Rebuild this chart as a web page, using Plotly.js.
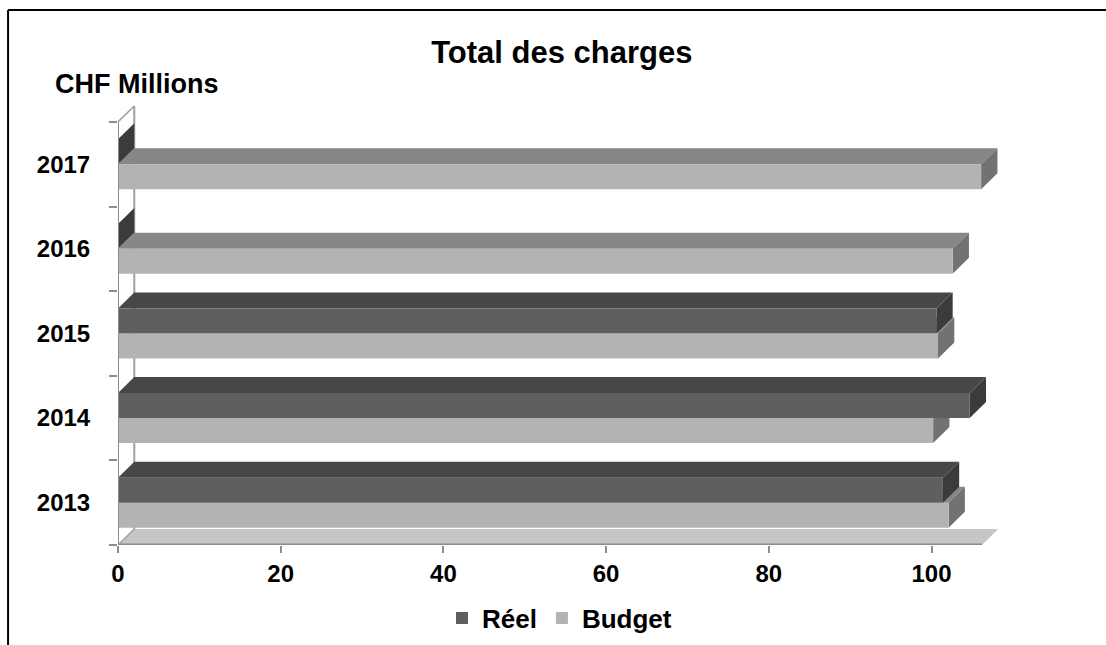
<!DOCTYPE html>
<html>
<head>
<meta charset="utf-8">
<script src="https://cdn.plot.ly/plotly-3.0.1.min.js"></script>
<style>html,body{margin:0;padding:0;background:#fff;}#chart{width:1106px;height:645px;}</style>
</head>
<body>
<div id="chart"></div>
<script>
// ---- data ----
const years = ['2013', '2014', '2015', '2016', '2017'];
const reel = [101.4, 104.7, 100.6, 0, 0];
const budget = [102.1, 100.2, 100.8, 102.6, 106.1];
const xTicks = [0, 20, 40, 60, 80, 100];
const seriesNames = ['Réel', 'Budget'];

// ---- style / geometry ----
const FONT = 'Arial, "Liberation Sans", sans-serif';
const barW = 0.295;      // bar thickness in category units
const dX = 2.0;          // 3D depth along x (data units)
const dY = 0.189;        // 3D depth along y (category units)
const floorMax = 106.2;  // right end of the floor
const colReel = {front: '#5f5f5f', top: '#474747', side: '#3b3b3b'};
const colBud = {front: '#b3b3b3', top: '#878787', side: '#727272'};

const centers = years.map((_, i) => i + 0.5);
const nCat = years.length;

function topFace(v, y1, col) {
  return {type: 'path', xref: 'x', yref: 'y', layer: 'below', line: {width: 0}, fillcolor: col,
    path: `M0,${y1} L${v},${y1} L${v + dX},${y1 + dY} L${dX},${y1 + dY} Z`};
}
function sideFace(v, y0, y1, col) {
  return {type: 'path', xref: 'x', yref: 'y', layer: 'below', line: {width: 0}, fillcolor: col,
    path: `M${v},${y0} L${v},${y1} L${v + dX},${y1 + dY} L${v + dX},${y0 + dY} Z`};
}

const shapes = [];
// floor
shapes.push({type: 'path', xref: 'x', yref: 'y', layer: 'below', line: {width: 0}, fillcolor: '#c6c6c6',
  path: `M0,0 L${floorMax},0 L${floorMax + dX},${dY} L${dX},${dY} Z`});
shapes.push({type: 'line', xref: 'x', yref: 'y', layer: 'below', x0: 0, x1: floorMax, y0: 0, y1: 0,
  line: {color: '#8c8c8c', width: 3}});
shapes.push({type: 'line', xref: 'x', yref: 'y', layer: 'below', x0: 0, x1: dX, y0: 0, y1: dY,
  line: {color: '#a0a0a0', width: 1.5}});
// back wall line
shapes.push({type: 'line', xref: 'x', yref: 'y', layer: 'below', x0: dX, x1: dX, y0: dY, y1: nCat + dY,
  line: {color: '#a0a0a0', width: 2}});
shapes.push({type: 'line', xref: 'x', yref: 'y', layer: 'below', x0: 0, x1: dX, y0: nCat, y1: nCat + dY,
  line: {color: '#a0a0a0', width: 1.5}});

// budget 3D faces (below réel)
centers.forEach((c, i) => {
  const y0 = c - barW, y1 = c;
  shapes.push(topFace(budget[i], y1, colBud.top));
  shapes.push(sideFace(budget[i], y0, y1, colBud.side));
});
// réel 3D faces
centers.forEach((c, i) => {
  const y0 = c, y1 = c + barW;
  shapes.push(topFace(reel[i], y1, colReel.top));
  shapes.push(sideFace(reel[i], y0, y1, colReel.side));
});
// front left axis line
shapes.push({type: 'line', xref: 'x', yref: 'y', layer: 'above', x0: 0, x1: 0, y0: 0, y1: nCat,
  line: {color: '#8c8c8c', width: 2}});
// outer frame (top + left)
shapes.push({type: 'line', xref: 'paper', yref: 'paper', x0: -0.1245, x1: 1.125, y0: 1.2159, y1: 1.2159,
  line: {color: '#000', width: 2}});
shapes.push({type: 'line', xref: 'paper', yref: 'paper', x0: -0.1245, x1: -0.1245, y0: 1.2159, y1: -0.25,
  line: {color: '#000', width: 2}});

const traces = [
  {type: 'bar', orientation: 'h', name: seriesNames[0], x: reel, y: centers, width: barW, offset: 0,
   marker: {color: colReel.front, line: {width: 0}}, hoverinfo: 'skip'},
  {type: 'bar', orientation: 'h', name: seriesNames[1], x: budget, y: centers, width: barW, offset: -barW,
   marker: {color: colBud.front, line: {width: 0}}, hoverinfo: 'skip'},
  // invisible trace to carry the category boundary ticks
  {type: 'scatter', x: [0], y: [0], yaxis: 'y2', mode: 'markers', marker: {opacity: 0}, showlegend: false, hoverinfo: 'skip'}
];

const layout = {
  width: 1106, height: 645,
  paper_bgcolor: '#fff', plot_bgcolor: 'rgba(0,0,0,0)',
  margin: {l: 118, r: 105, t: 105, b: 100, autoexpand: false},
  barmode: 'overlay',
  showlegend: true,
  title: {text: 'Total des charges', font: {family: FONT, size: 31, color: '#000', weight: 'bold'},
          x: 0.508, xref: 'container', xanchor: 'center', y: 0.919, yref: 'container', yanchor: 'middle'},
  font: {family: FONT, color: '#000'},
  xaxis: {range: [0, 108.54], tickvals: xTicks, ticktext: xTicks.map(String), ticks: 'outside', ticklen: 7,
          tickwidth: 2, tickcolor: '#8c8c8c', showgrid: false, zeroline: false, showline: false,
          tickfont: {family: FONT, size: 24, color: '#000', weight: 'bold'}, automargin: false, fixedrange: true},
  yaxis: {range: [0, 5.2], tickvals: centers, ticktext: years, ticks: 'outside', ticklen: 22,
          tickcolor: 'rgba(0,0,0,0)', showgrid: false, zeroline: false, showline: false,
          tickfont: {family: FONT, size: 24, color: '#000', weight: 'bold'}, automargin: false, fixedrange: true},
  yaxis2: {range: [0, 5.2], overlaying: 'y', side: 'left', anchor: 'x', tickvals: years.map((_, i) => i).concat([nCat]),
           ticks: 'outside', ticklen: 8, tickwidth: 2, tickcolor: '#8c8c8c', showticklabels: false,
           showgrid: false, zeroline: false, showline: false, fixedrange: true},
  legend: {orientation: 'h', x: 0.5, xanchor: 'center', y: -0.166, yanchor: 'middle',
           font: {family: FONT, size: 26, color: '#000', weight: 'bold'}, traceorder: 'normal'},
  annotations: [
    {text: 'CHF Millions', xref: 'paper', yref: 'paper', x: 0.021, y: 1.048, xanchor: 'center', yanchor: 'middle',
     showarrow: false, font: {family: FONT, size: 27, color: '#000', weight: 'bold'}}
  ],
  shapes: shapes
};

Plotly.newPlot('chart', traces, layout, {staticPlot: true, displayModeBar: false});
</script>
</body>
</html>
